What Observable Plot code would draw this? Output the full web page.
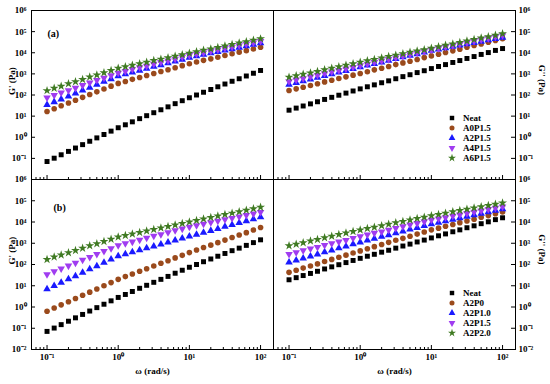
<!DOCTYPE html>
<html><head><meta charset="utf-8">
<script src="https://cdn.jsdelivr.net/npm/d3@7"></script>
<script src="https://cdn.jsdelivr.net/npm/@observablehq/plot@0.6"></script>
<style>
body{margin:0;background:#fff;}
#chart{position:relative;width:550px;height:384px;background:#fff;font-family:"Liberation Serif","Times New Roman",serif;font-weight:bold;}
#chart svg{position:absolute;left:0;top:0;}
</style></head>
<body><div id="chart"></div>
<script>
// angular frequency (rad/s)
const omega = [0.1,0.126,0.158,0.2,0.251,0.316,0.398,0.501,0.631,0.794,1,1.26,1.58,2,2.51,3.16,3.98,5.01,6.31,7.94,10,12.6,15.8,20,25.1,31.6,39.8,50.1,63.1,79.4,100];

// G' storage modulus (Pa)
const gp_Neat  = [0.071,0.102,0.148,0.214,0.309,0.447,0.646,0.933,1.35,1.95,2.82,3.89,5.37,7.59,10.5,14.5,20.0,27.5,38.9,53.7,74.1,100,135,182,245,331,447,589,794,1070,1450];
const gp_A0P15 = [16.6,22.4,30.9,41.7,56.2,77.6,105,141,191,263,355,437,550,676,832,1050,1290,1580,1950,2450,3020,3630,4370,5130,6170,7410,8910,10700,12600,15100,18200];
const gp_A2P15 = [33.9,46.8,63.1,87.1,120,166,224,309,427,575,794,977,1170,1450,1780,2190,2630,3240,3980,4790,5890,6920,8130,9550,11200,13200,15100,17800,20900,24500,28800];
const gp_A4P15 = [74.1,97.7,129,166,219,288,380,501,646,851,1120,1350,1660,2000,2400,2950,3550,4270,5130,6310,7590,8910,10200,12000,14100,16600,19100,22400,26300,30200,35500];
const gp_A6P15 = [162,209,263,339,427,550,708,891,1150,1450,1860,2190,2570,3020,3550,4270,5010,5890,6920,8130,9550,11200,13200,15100,17800,20900,24500,28800,33100,38900,45700];
const gp_A2P0  = [0.631,0.891,1.26,1.78,2.51,3.55,5.01,7.08,10,14.1,20.0,26.9,35.5,47.9,63.1,85.1,115,151,204,269,363,479,631,813,1070,1410,1860,2450,3160,4170,5500];
const gp_A2P10 = [6.92,10,14.1,20.4,28.8,41.7,60.3,85.1,123,174,251,309,380,479,589,724,891,1100,1380,1700,2090,2570,3160,3890,4790,6030,7410,9120,11200,13800,17000];
const gp_A2P20 = [174,224,282,363,457,589,759,955,1230,1550,2000,2340,2750,3240,3800,4470,5250,6170,7240,8510,10000,11700,13800,16200,19100,22400,26300,30900,36300,42700,50100];

// G'' loss modulus (Pa)
const gpp_Neat  = [19.1,24.0,30.2,38.0,47.9,61.7,77.6,97.7,123,155,195,245,302,380,468,589,741,912,1150,1410,1780,2240,2750,3470,4270,5370,6610,8320,10200,12900,15800];
const gpp_A0P15 = [162,195,234,282,339,417,501,603,724,871,1050,1260,1550,1860,2240,2750,3310,3980,4790,5890,7080,8510,10200,12300,14800,18200,21900,26300,31600,38000,45700];
const gpp_A2P15 = [309,372,457,550,661,813,977,1170,1410,1740,2090,2510,3020,3550,4270,5130,6170,7410,8710,10500,12600,14500,16600,19500,22400,25700,29500,33900,39800,45700,52500];
const gpp_A4P15 = [437,525,617,741,871,1050,1260,1480,1780,2090,2510,2950,3550,4170,5010,5890,6920,8320,9770,11700,13800,16200,19100,21900,25700,30200,35500,41700,47900,56200,66100];
const gpp_A6P15 = [692,813,955,1120,1320,1580,1860,2190,2570,3020,3550,4170,4790,5620,6610,7760,8910,10500,12300,14100,16600,19500,22900,26300,30900,36300,42700,50100,57500,67600,79400];
const gpp_A2P0  = [42.7,53.7,67.6,85.1,107,138,174,219,275,347,437,550,692,871,1100,1380,1700,2140,2690,3390,4270,5130,6310,7590,9330,11200,13500,16600,20000,24500,29500];
const gpp_A2P10 = [126,158,195,245,302,380,468,589,724,912,1120,1380,1660,2040,2450,3020,3630,4470,5370,6610,7940,9330,11000,12900,15100,18200,21400,25100,29500,34700,40700];
const gpp_A2P20 = [759,912,1070,1290,1510,1820,2140,2570,3020,3630,4270,5010,5750,6760,7940,9330,10700,12600,14800,17000,20000,22900,26300,30200,34700,39800,45700,52500,60300,69200,79400];

// series names and axis ticks
const namesA = ["Neat","A0P1.5","A2P1.5","A4P1.5","A6P1.5"];
const namesB = ["Neat","A2P0","A2P1.0","A2P1.5","A2P2.0"];
const xTicks = [0.1,1,10,100];
const xMinor = [0.07,0.08,0.09,0.2,0.3,0.4,0.5,0.6,0.7,0.8,0.9,2,3,4,5,6,7,8,9,20,30,40,50,60,70,80,90];
const yTicks = [1e-2,1e-1,1,1e1,1e2,1e3,1e4,1e5,1e6];
const yLabelsTop = [1e-1,1,1e1,1e2,1e3,1e4,1e5,1e6];
const yTitleL = "G' (Pa)", yTitleR = "G'' (Pa)", xTitle = "ω (rad/s)";

// marker styles
const triDown = {draw(ctx, size){const y = -Math.sqrt(size/(Math.sqrt(3)*3)); ctx.moveTo(0,-2*y); ctx.lineTo(-Math.sqrt(3)*y, y); ctx.lineTo(Math.sqrt(3)*y, y); ctx.closePath();}};
const styles = [
  {symbol: d3.symbolSquare, color: "#000000"},
  {symbol: d3.symbolCircle, color: "#9a4a1c"},
  {symbol: d3.symbolTriangle, color: "#1a1aff"},
  {symbol: triDown, color: "#a03cf0"},
  {symbol: d3.symbolStar, color: "#3f7a22"}
];

const sup = {"-":"⁻","0":"⁰","1":"¹","2":"²","3":"³","4":"⁴","5":"⁵","6":"⁶","7":"⁷","8":"⁸","9":"⁹"};
const fmt = d => "10" + String(Math.round(Math.log10(d))).split("").map(c => sup[c]).join("");

const W = 550, H = 384, R = 2.8;
const chart = document.getElementById("chart");

function panel(o){
  const fw = o.x1 - o.x0, fh = o.y1 - o.y0;
  const marks = [
    Plot.frame({stroke: "#000", strokeWidth: 1}),
    o.side === "left"
      ? Plot.tickY(yTicks, {y: d => d, insetRight: fw - 4, stroke: "#000"})
      : Plot.tickY(yTicks, {y: d => d, insetLeft: fw - 4, stroke: "#000"}),
    Plot.tickX(xTicks, {x: d => d, insetTop: fh - 4, stroke: "#000"}),
    Plot.tickX(xMinor, {x: d => d, insetTop: fh - 2, stroke: "#000"}),
    Plot.axisY(o.showX ? yTicks : yLabelsTop, {anchor: o.side, tickSize: 0, tickPadding: o.side === "left" ? 5 : 3, tickFormat: fmt, label: null}),
    Plot.text([o.side === "left" ? yTitleL : yTitleR], {text: d => d, frameAnchor: o.side, dx: o.side === "left" ? -19 : 26, rotate: o.side === "left" ? -90 : 90, fontSize: 9})
  ];
  if (o.showX) {
    marks.push(Plot.axisX(xTicks, {anchor: "bottom", tickSize: 0, tickPadding: 4, tickFormat: fmt, label: null}));
    marks.push(Plot.text([xTitle], {text: d => d, frameAnchor: "bottom", dy: 24, fontSize: 9}));
  }
  if (o.label) marks.push(Plot.text([o.label], {text: d => d, frameAnchor: "top-left", dx: o.ldx, dy: o.ldy, textAnchor: "start", fontSize: 10}));
  o.series.forEach((vals, k) => {
    const rows = omega.map((w, i) => ({w, v: vals[i]}));
    marks.push(Plot.dot(rows, {x: "w", y: "v", symbol: styles[k].symbol, fill: styles[k].color, r: R, stroke: "none"}));
  });
  const svg = Plot.plot({
    width: W, height: H,
    marginLeft: o.x0, marginRight: W - o.x1, marginTop: o.y0, marginBottom: H - o.y1,
    x: {type: "log", domain: [0.0605, 152], axis: null},
    y: {type: "log", domain: [1e-2, 1e6], axis: null},
    style: {background: "transparent", overflow: "visible", fontFamily: "'Liberation Serif','Times New Roman',serif", fontWeight: "bold", fontSize: "9px", color: "#000"},
    marks
  });
  chart.appendChild(svg);
}

function legend(names, left, top){
  const svg = d3.select(chart).append("svg").style("left", left + "px").style("top", top + "px").attr("width", 90).attr("height", 56);
  names.forEach((n, i) => {
    const g = svg.append("g").attr("transform", `translate(6,${6 + i * 10})`);
    g.append("path").attr("d", d3.symbol(styles[i].symbol, Math.PI * R * R * 0.8)()).attr("fill", styles[i].color);
    g.append("text").attr("x", 11).attr("dy", "0.35em").attr("font-size", 9).attr("font-weight", "bold")
      .attr("font-family", "'Liberation Serif','Times New Roman',serif").text(n);
  });
}

panel({x0: 31, x1: 273, y0: 10, y1: 179, side: "left", showX: false, label: "(a)", ldx: 16, ldy: 19,
  series: [gp_Neat, gp_A0P15, gp_A2P15, gp_A4P15, gp_A6P15]});
panel({x0: 273, x1: 515, y0: 10, y1: 179, side: "right", showX: false,
  series: [gpp_Neat, gpp_A0P15, gpp_A2P15, gpp_A4P15, gpp_A6P15]});
panel({x0: 31, x1: 273, y0: 179, y1: 349, side: "left", showX: true, label: "(b)", ldx: 22, ldy: 24,
  series: [gp_Neat, gp_A2P0, gp_A2P10, gp_A2P15, gp_A2P20]});
panel({x0: 273, x1: 515, y0: 179, y1: 349, side: "right", showX: true,
  series: [gpp_Neat, gpp_A2P0, gpp_A2P10, gpp_A2P15, gpp_A2P20]});
legend(namesA, 446, 112);
legend(namesB, 446, 287);
</script>
</body></html>
